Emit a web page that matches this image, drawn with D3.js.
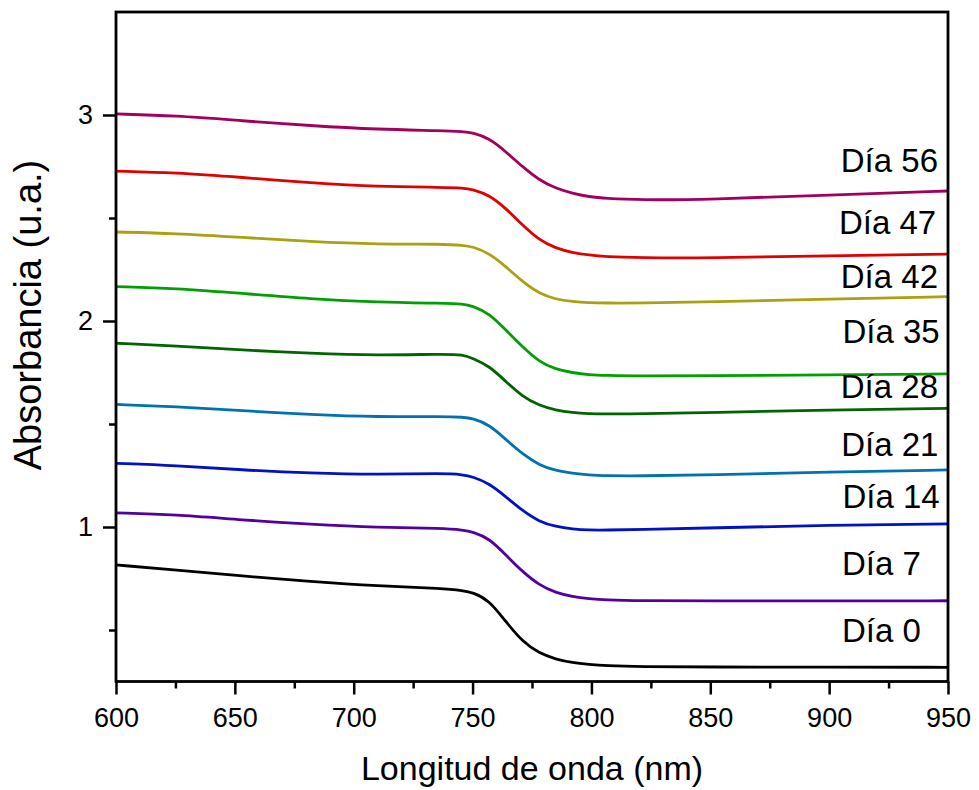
<!DOCTYPE html>
<html>
<head>
<meta charset="utf-8">
<script src="https://cdn.jsdelivr.net/npm/d3@7"></script>
<style>
  body { margin: 0; background: #fff; }
  svg text { font-family: Arial, "Liberation Sans", sans-serif; fill: #000; }
</style>
</head>
<body>
<div id="chart"></div>
<script>
'use strict';

// wavelength grid (nm)
const wavelengths = [600, 625, 653, 682, 710, 738, 746, 750, 757, 764, 771, 778, 785, 792, 799, 806, 820, 850, 900, 950];

// absorbance per day
const day0  = [0.816, 0.791, 0.762, 0.735, 0.714, 0.702, 0.691, 0.683, 0.645, 0.540, 0.443, 0.387, 0.358, 0.341, 0.333, 0.327, 0.322, 0.320, 0.320, 0.319];
const day7  = [1.069, 1.060, 1.034, 1.013, 0.998, 0.994, 0.985, 0.977, 0.945, 0.864, 0.783, 0.718, 0.681, 0.662, 0.652, 0.646, 0.642, 0.641, 0.641, 0.642];
const day14 = [1.309, 1.298, 1.277, 1.261, 1.254, 1.261, 1.254, 1.244, 1.212, 1.147, 1.079, 1.026, 1.002, 0.990, 0.985, 0.985, 0.988, 0.995, 1.010, 1.015];
const day21 = [1.595, 1.584, 1.565, 1.545, 1.534, 1.537, 1.533, 1.528, 1.497, 1.425, 1.354, 1.301, 1.273, 1.261, 1.252, 1.249, 1.248, 1.252, 1.267, 1.277];
const day28 = [1.892, 1.879, 1.859, 1.843, 1.833, 1.840, 1.836, 1.819, 1.782, 1.706, 1.633, 1.590, 1.567, 1.555, 1.550, 1.549, 1.549, 1.556, 1.568, 1.576];
const day35 = [2.167, 2.159, 2.134, 2.107, 2.091, 2.086, 2.083, 2.073, 2.037, 1.956, 1.875, 1.802, 1.765, 1.749, 1.739, 1.736, 1.733, 1.735, 1.738, 1.743];
const day42 = [2.432, 2.425, 2.406, 2.385, 2.372, 2.374, 2.367, 2.361, 2.329, 2.264, 2.191, 2.134, 2.105, 2.094, 2.089, 2.087, 2.087, 2.092, 2.107, 2.118];
const day47 = [2.728, 2.720, 2.697, 2.671, 2.652, 2.649, 2.646, 2.639, 2.612, 2.547, 2.466, 2.393, 2.353, 2.332, 2.320, 2.312, 2.307, 2.306, 2.316, 2.325];
const day56 = [3.005, 2.997, 2.972, 2.948, 2.930, 2.924, 2.919, 2.914, 2.887, 2.822, 2.749, 2.684, 2.644, 2.619, 2.603, 2.595, 2.587, 2.590, 2.612, 2.631];

const seriesNames = ["Día 0", "Día 7", "Día 14", "Día 21", "Día 28", "Día 35", "Día 42", "Día 47", "Día 56"];
const seriesValues = [day0, day7, day14, day21, day28, day35, day42, day47, day56];
const seriesColors = ["#000000", "#5400a0", "#0012c4", "#0072b2", "#006400", "#00a000", "#aaa012", "#e00000", "#a2005e"];

// label anchors in data units (right end nm, baseline absorbance)
const labelNm = [938.6, 938.6, 946.5, 946, 945.8, 946.5, 945.8, 945, 945.8];
const labelAbs = [0.443, 0.767, 1.092, 1.345, 1.626, 1.893, 2.160, 2.422, 2.725];

const xMajor = [600, 650, 700, 750, 800, 850, 900, 950];
const xMinor = [625, 675, 725, 775, 825, 875, 925];
const yMajor = [1, 2, 3];
const yMinor = [0.5, 1.5, 2.5];

const xTitle = "Longitud de onda (nm)";
const yTitle = "Absorbancia (u.a.)";

const width = 979, height = 790;
const margin = { top: 12, right: 31, bottom: 108.5, left: 116 };

const svg = d3.select("#chart").append("svg")
    .attr("width", width)
    .attr("height", height);

const x = d3.scaleLinear()
    .domain([600, 950])
    .range([margin.left, width - margin.right]);

const y = d3.scaleLinear()
    .domain([0.25, 3.5])
    .range([height - margin.bottom, margin.top]);

// curves
const line = d3.line()
    .x(d => x(d[0]))
    .y(d => y(d[1]))
    .curve(d3.curveBasis);

svg.append("g")
    .selectAll("path")
    .data(seriesValues)
    .join("path")
    .attr("fill", "none")
    .attr("stroke", (d, i) => seriesColors[i])
    .attr("stroke-width", 2.8)
    .attr("stroke-linejoin", "round")
    .attr("d", vals => line(vals.map((v, i) => [wavelengths[i], v])));

// axes
const xAxis = svg.append("g")
    .attr("transform", `translate(0,${y.range()[0]})`)
    .call(d3.axisBottom(x).tickValues(xMajor).tickSize(13).tickPadding(13).tickFormat(d3.format("d")));

const xAxisMinor = svg.append("g")
    .attr("transform", `translate(0,${y.range()[0]})`)
    .call(d3.axisBottom(x).tickValues(xMinor).tickSize(7).tickFormat(""));

const yAxis = svg.append("g")
    .attr("transform", `translate(${margin.left},0)`)
    .call(d3.axisLeft(y).tickValues(yMajor).tickSize(13).tickPadding(10).tickFormat(d3.format("d")));

const yAxisMinor = svg.append("g")
    .attr("transform", `translate(${margin.left},0)`)
    .call(d3.axisLeft(y).tickValues(yMinor).tickSize(7).tickFormat(""));

[xAxis, xAxisMinor, yAxis, yAxisMinor].forEach(g => {
    g.select(".domain").remove();
    g.selectAll(".tick line").attr("stroke", "#000").attr("stroke-width", 2.5);
    g.selectAll(".tick text").attr("font-size", 27).attr("fill", "#000");
});

// frame
svg.append("rect")
    .attr("x", x.range()[0])
    .attr("y", y.range()[1])
    .attr("width", x.range()[1] - x.range()[0])
    .attr("height", y.range()[0] - y.range()[1])
    .attr("fill", "none")
    .attr("stroke", "#000")
    .attr("stroke-width", 2.8);

// series labels
svg.append("g")
    .selectAll("text")
    .data(seriesNames)
    .join("text")
    .attr("x", (d, i) => x(labelNm[i]))
    .attr("y", (d, i) => y(labelAbs[i]))
    .attr("text-anchor", "end")
    .attr("font-size", 33)
    .text(d => d);

// axis titles
svg.append("text")
    .attr("x", (x.range()[0] + x.range()[1]) / 2)
    .attr("y", 780)
    .attr("text-anchor", "middle")
    .attr("font-size", 34)
    .text(xTitle);

svg.append("text")
    .attr("transform", `translate(41,${315}) rotate(-90)`)
    .attr("text-anchor", "middle")
    .attr("font-size", 38)
    .text(yTitle);
</script>
</body>
</html>
